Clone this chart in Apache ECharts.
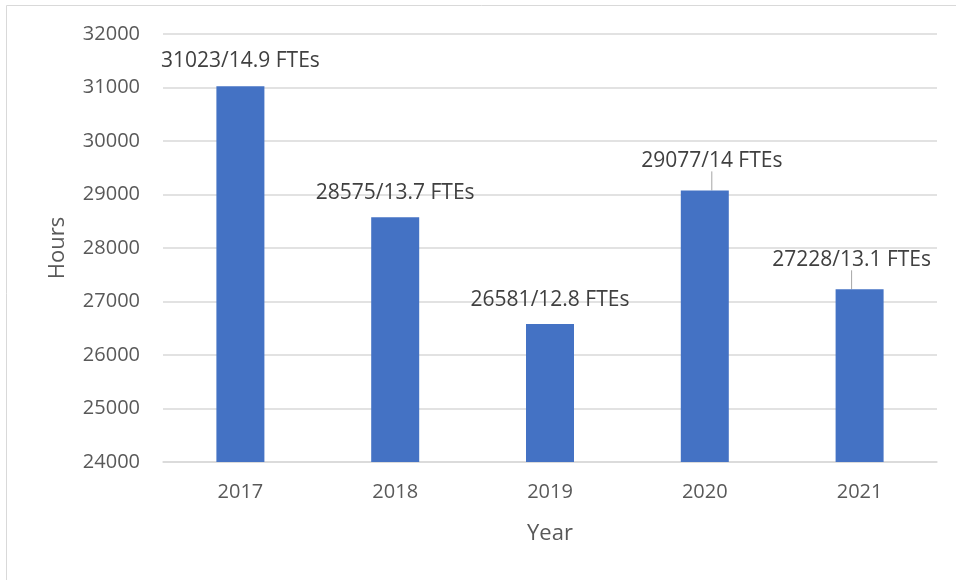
<!DOCTYPE html>
<html>
<head>
<meta charset="utf-8">
<script src="https://cdn.jsdelivr.net/npm/echarts@6/dist/echarts.min.js"></script>
<style>
  html, body { margin: 0; padding: 0; background: #fff; }
  #chart { width: 956px; height: 580px; }
</style>
</head>
<body>
<div id="chart"></div>
<script>
// data
const years = ['2017', '2018', '2019', '2020', '2021']
const hours = [31023, 28575, 26581, 29077, 27228]
const ftes = ['14.9', '13.7', '12.8', '14', '13.1']
// label nudges (px) - 2020 and 2021 labels are pulled off with a leader line
const labelDx = [0, 0, 0, 7, -8]
const labelDy = [-10, -9, -8, -14, -14]
const hasLine = [false, false, false, true, true]

const chart = echarts.init(document.getElementById('chart'))
const font = '"Open Sans", "Liberation Sans", sans-serif'

const option = {
  animation: false,
  textStyle: { fontFamily: font },
  graphic: [{
    type: 'rect',
    shape: { x: 6.5, y: 5.5, width: 1000, height: 1000 },
    style: { fill: 'none', stroke: '#d9d9d9', lineWidth: 1 }
  }],
  grid: { left: 163, right: 19, top: 34, bottom: 118 },
  xAxis: {
    type: 'category',
    data: years,
    name: 'Year',
    nameLocation: 'middle',
    nameGap: 61,
    nameTextStyle: { fontSize: 22, color: '#595959', fontFamily: font },
    axisLine: { lineStyle: { color: '#d9d9d9', width: 1.5 } },
    axisTick: { show: false },
    axisLabel: { fontSize: 20, color: '#595959', margin: 20, fontFamily: font }
  },
  yAxis: {
    type: 'value',
    min: 24000,
    max: 32000,
    interval: 1000,
    name: 'Hours',
    nameLocation: 'middle',
    nameGap: 94,
    nameTextStyle: { fontSize: 22, color: '#595959', fontFamily: font },
    axisLine: { show: false },
    axisTick: { show: false },
    splitLine: { lineStyle: { color: '#d9d9d9', width: 1.5 } },
    axisLabel: {
      fontSize: 20, color: '#595959', margin: 23, fontFamily: font,
      formatter: v => String(v)
    }
  },
  series: [{
    type: 'bar',
    barWidth: 48,
    itemStyle: { color: '#4472c4' },
    data: hours.map((v, i) => ({
      value: v,
      labelLine: { show: hasLine[i] }
    })),
    label: {
      show: true,
      position: 'top',
      distance: 5,
      fontSize: 21,
      color: '#404040',
      fontFamily: font,
      formatter: p => p.value + '/' + ftes[p.dataIndex] + ' FTEs'
    },
    labelLine: {
      lineStyle: { color: '#a6a6a6', width: 1 }
    },
    labelLayout: p => ({
      dx: labelDx[p.dataIndex],
      dy: labelDy[p.dataIndex]
    })
  }]
}

chart.setOption(option)
</script>
</body>
</html>
